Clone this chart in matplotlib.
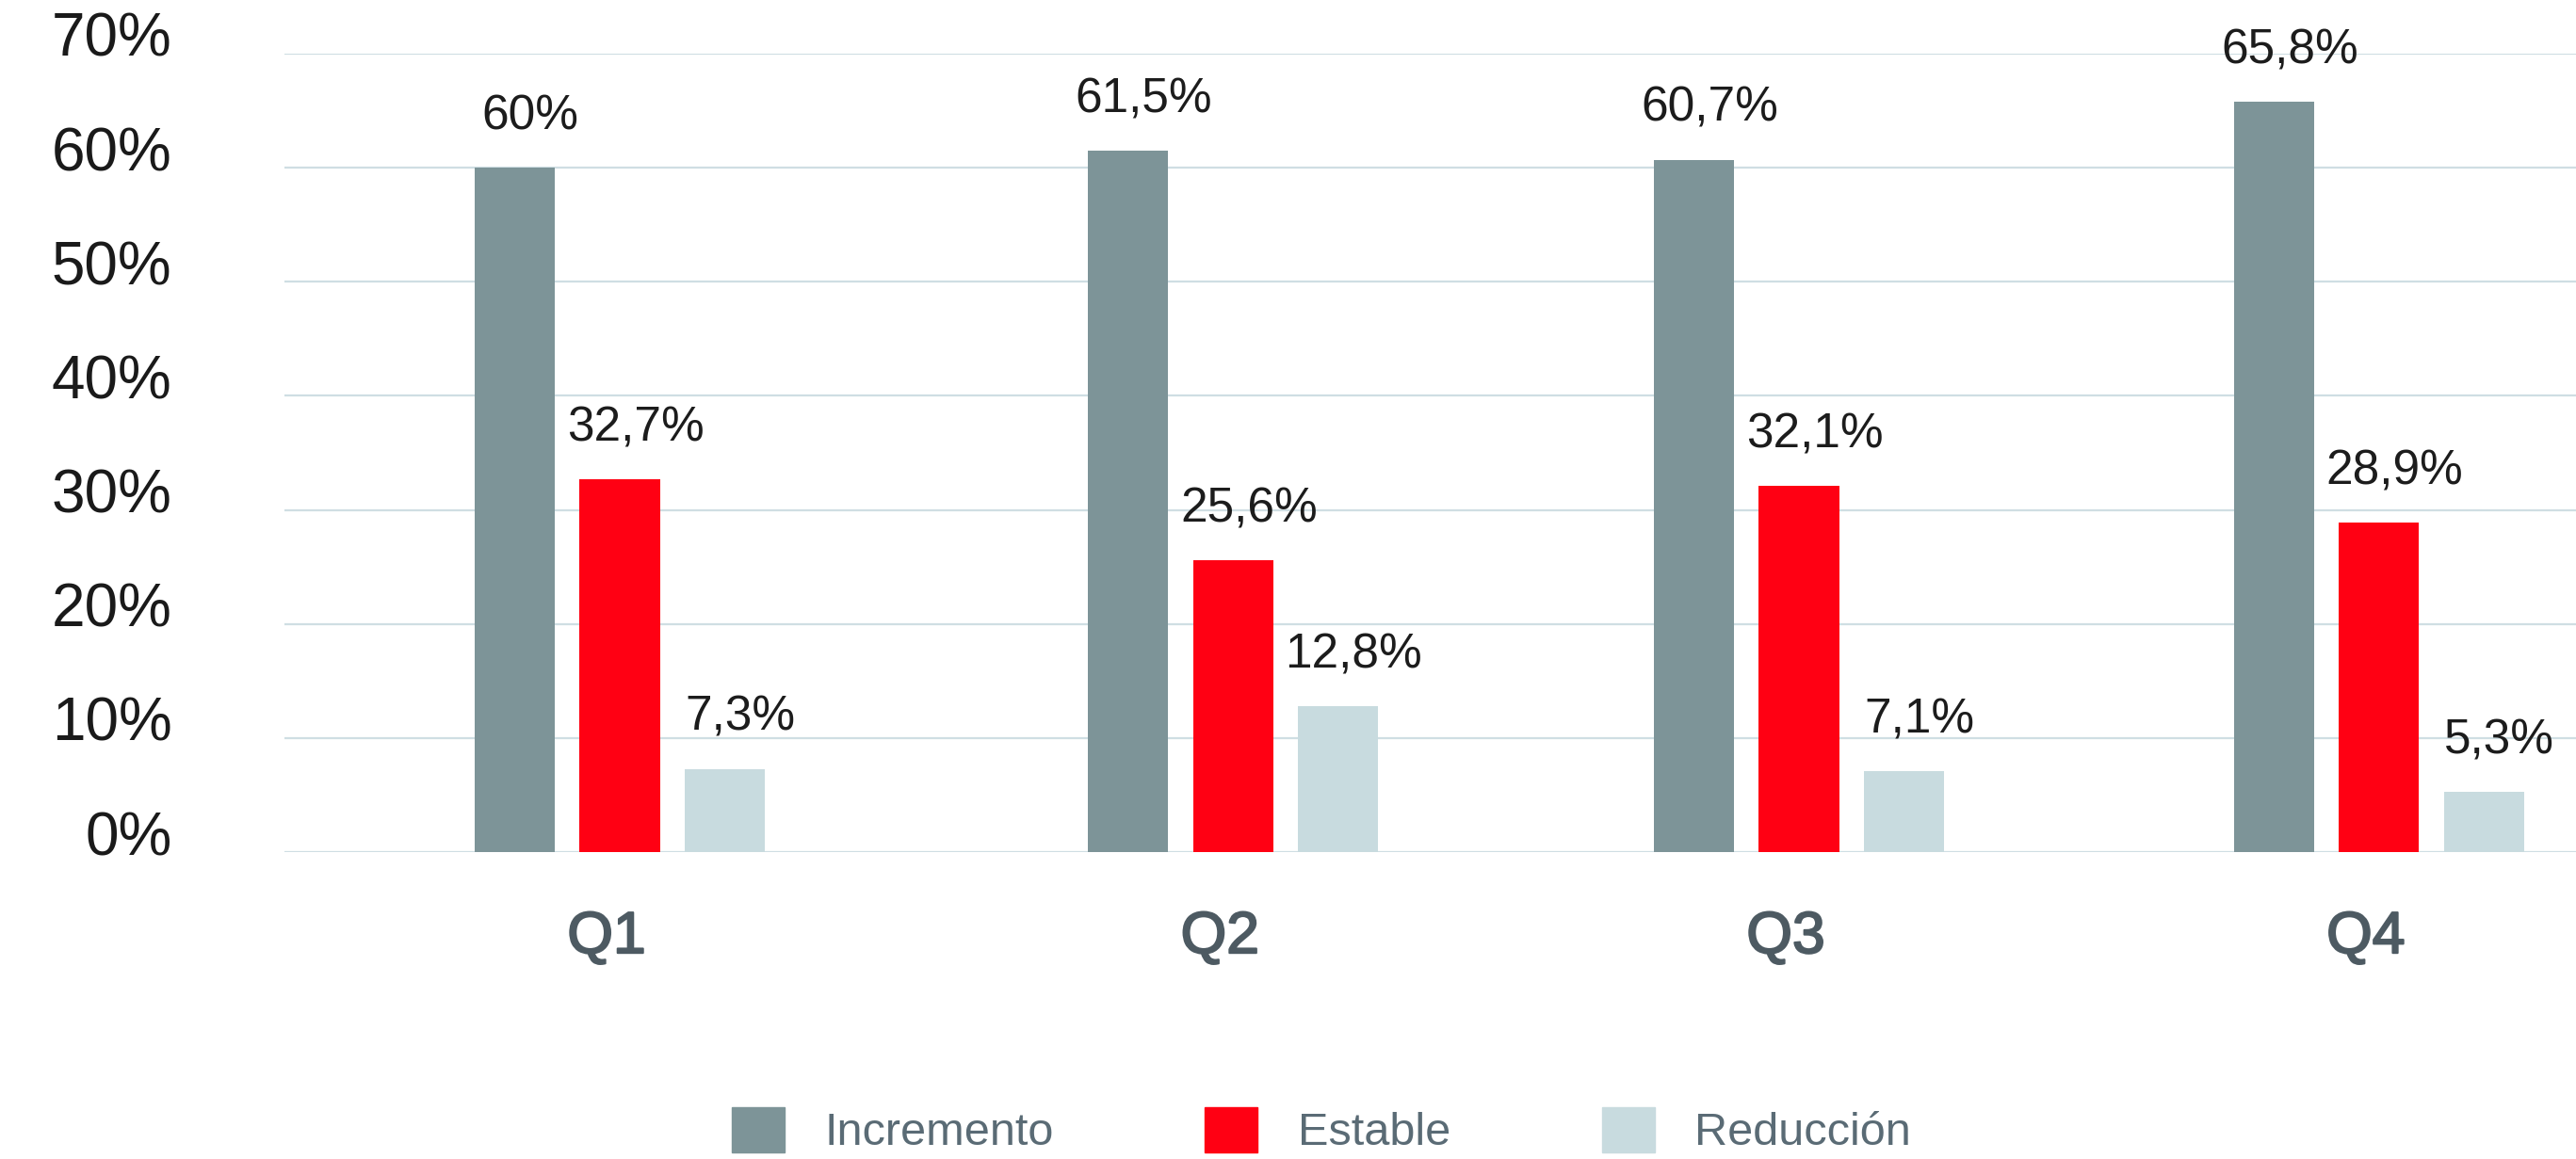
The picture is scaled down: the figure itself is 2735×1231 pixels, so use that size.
import matplotlib
matplotlib.use("Agg")
import matplotlib.pyplot as plt
import matplotlib.transforms as mtransforms
import matplotlib.patheffects as pe
import numpy as np

plt.rcParams['font.family'] = ['Liberation Sans', 'DejaVu Sans']

# Data
quarters = ["Q1", "Q2", "Q3", "Q4"]
series_names = ["Incremento", "Estable", "Reducción"]
incremento = [60.0, 61.5, 60.7, 65.8]
estable = [32.7, 25.6, 32.1, 28.9]
reduccion = [7.3, 12.8, 7.1, 5.3]
value_labels = [
    ["60%", "61,5%", "60,7%", "65,8%"],
    ["32,7%", "25,6%", "32,1%", "28,9%"],
    ["7,3%", "12,8%", "7,1%", "5,3%"],
]
y_ticks = [0, 10, 20, 30, 40, 50, 60, 70]
y_tick_labels = ["0%", "10%", "20%", "30%", "40%", "50%", "60%", "70%"]

# Layout
group_pos = np.array([0.0, 1.046, 2.011, 3.0])
offsets = [-0.179, 0.0, 0.179]
bar_w = 0.137
colors = ["#7d9498", "#ff0013", "#c8dbdf"]
grid_color = "#cfdee3"

fig = plt.figure(figsize=(27.35, 12.31), dpi=100)
ax = fig.add_axes([0.1104, 0.2648, 0.8896, 0.6889])

for values, labels, off, col in zip([incremento, estable, reduccion], value_labels, offsets, colors):
    bars = ax.bar(group_pos + off, values, width=bar_w, color=col, zorder=3)
    for rect, lab in zip(bars, labels):
        ax.annotate(lab, (rect.get_x() + rect.get_width() / 2, rect.get_height()),
                    xytext=(12, 39), textcoords="offset points",
                    ha="center", va="center", fontsize=37, color="#1c1c1c")

ax.set_xlim(-0.572, 3.336)
ax.set_ylim(0, 70)

ax.set_yticks(y_ticks)
ax.set_yticklabels(y_tick_labels, fontsize=46, color="#1a1a1a")
ax.tick_params(axis="y", length=0, pad=86)
shift_up = mtransforms.ScaledTranslation(0, 14 / 100, fig.dpi_scale_trans)
for lbl in ax.get_yticklabels():
    lbl.set_verticalalignment("center")
    lbl.set_transform(lbl.get_transform() + shift_up)

ax.set_xticks(group_pos)
ax.set_xticklabels(quarters, fontsize=45, color="#4d5a62")
ax.tick_params(axis="x", length=0, pad=44)
shift_left = mtransforms.ScaledTranslation(-14 / 100, 0, fig.dpi_scale_trans)
for lbl in ax.get_xticklabels():
    lbl.set_transform(lbl.get_transform() + shift_left)
    lbl.set_path_effects([pe.withStroke(linewidth=1.5, foreground="#4d5a62")])

ax.grid(axis="y", color=grid_color, linewidth=1.6, zorder=0)
ax.set_axisbelow(True)
for sp in ax.spines.values():
    sp.set_visible(False)

handles = [plt.Rectangle((0, 0), 1, 1, color=c) for c in colors]
leg = fig.legend(handles, series_names, loc="center", bbox_to_anchor=(0.513, 0.0244),
                 ncol=3, frameon=False, fontsize=35, handlelength=1.15, handleheight=1.15,
                 handletextpad=0.88, columnspacing=3.3, borderpad=0)
for t in leg.get_texts():
    t.set_color("#5a6b75")

fig.savefig("out.png", dpi=100)
